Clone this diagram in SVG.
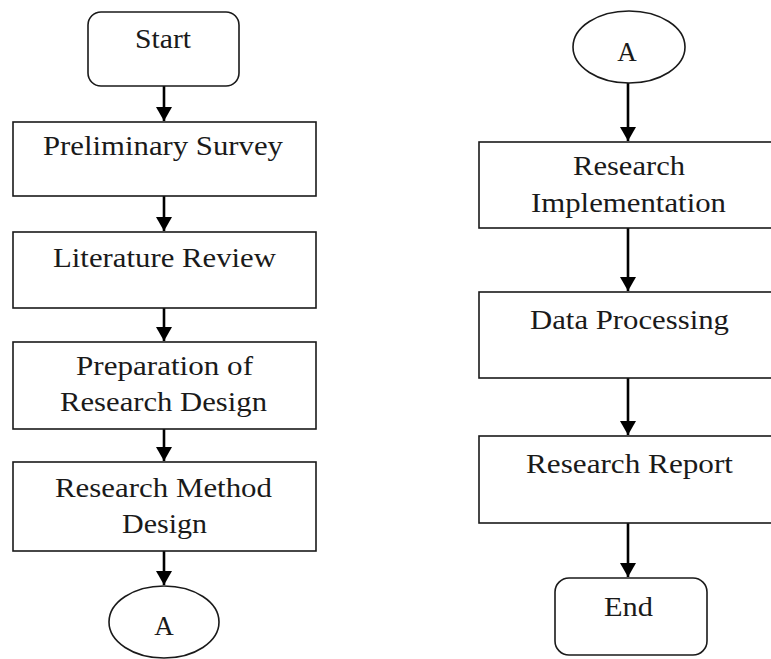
<svg xmlns="http://www.w3.org/2000/svg" width="771" height="659" viewBox="0 0 771 659">
<defs>
<style>
.box{fill:#fff;stroke:#1a1a1a;stroke-width:1.6}
.lbl{font-family:"Liberation Serif","Times New Roman",serif;font-size:27px;fill:#1a1a1a;text-anchor:middle}
.conn{stroke:#000;stroke-width:2.6;fill:none;marker-end:url(#ah)}
</style>
<marker id="ah" viewBox="0 0 14 16" refX="14" refY="8" markerWidth="14" markerHeight="16" markerUnits="userSpaceOnUse" orient="auto">
<path d="M0,0 L14,8 L0,16 z" fill="#000"/>
</marker>
</defs>
<rect width="771" height="659" fill="#fff"/>
<g id="connectors">
<path class="conn" d="M164,86 L164,121"/>
<path class="conn" d="M164,196 L164,231"/>
<path class="conn" d="M164,308 L164,341"/>
<path class="conn" d="M164,429 L164,461"/>
<path class="conn" d="M164,551 L164,585"/>
<path class="conn" d="M628,83 L628,141"/>
<path class="conn" d="M628,228 L628,291"/>
<path class="conn" d="M628,378 L628,435"/>
<path class="conn" d="M628,523 L628,577"/>
</g>
<g id="start">
<rect class="box" x="88" y="12" width="151" height="74" rx="13"/>
<text class="lbl" x="163" y="48" textLength="56" lengthAdjust="spacingAndGlyphs">Start</text>
</g>
<g id="preliminary-survey">
<rect class="box" x="13" y="122" width="303" height="74"/>
<text class="lbl" x="163" y="155" textLength="240" lengthAdjust="spacingAndGlyphs">Preliminary Survey</text>
</g>
<g id="literature-review">
<rect class="box" x="13" y="232" width="303" height="76"/>
<text class="lbl" x="164.5" y="267" textLength="223" lengthAdjust="spacingAndGlyphs">Literature Review</text>
</g>
<g id="preparation">
<rect class="box" x="13" y="342" width="303" height="87"/>
<text class="lbl" x="164.5" y="375" textLength="177" lengthAdjust="spacingAndGlyphs">Preparation of</text>
<text class="lbl" x="163.5" y="411" textLength="207" lengthAdjust="spacingAndGlyphs">Research Design</text>
</g>
<g id="method-design">
<rect class="box" x="13" y="462" width="303" height="89"/>
<text class="lbl" x="163.5" y="497" textLength="217" lengthAdjust="spacingAndGlyphs">Research Method</text>
<text class="lbl" x="164.5" y="533" textLength="85" lengthAdjust="spacingAndGlyphs">Design</text>
</g>
<g id="connector-a-left">
<ellipse class="box" cx="164" cy="622" rx="55" ry="36"/>
<text class="lbl" x="164" y="635">A</text>
</g>
<g id="connector-a-right">
<ellipse class="box" cx="629" cy="47" rx="56" ry="36"/>
<text class="lbl" x="627" y="61">A</text>
</g>
<g id="research-implementation">
<rect class="box" x="479" y="142" width="300" height="86"/>
<text class="lbl" x="629" y="175" textLength="112" lengthAdjust="spacingAndGlyphs">Research</text>
<text class="lbl" x="628.5" y="212" textLength="195" lengthAdjust="spacingAndGlyphs">Implementation</text>
</g>
<g id="data-processing">
<rect class="box" x="479" y="292" width="300" height="86"/>
<text class="lbl" x="629.5" y="329" textLength="199" lengthAdjust="spacingAndGlyphs">Data Processing</text>
</g>
<g id="research-report">
<rect class="box" x="479" y="436" width="300" height="87"/>
<text class="lbl" x="629.5" y="473" textLength="207" lengthAdjust="spacingAndGlyphs">Research Report</text>
</g>
<g id="end">
<rect class="box" x="555" y="578" width="152" height="77" rx="14"/>
<text class="lbl" x="628.5" y="616" textLength="49" lengthAdjust="spacingAndGlyphs">End</text>
</g>
</svg>
